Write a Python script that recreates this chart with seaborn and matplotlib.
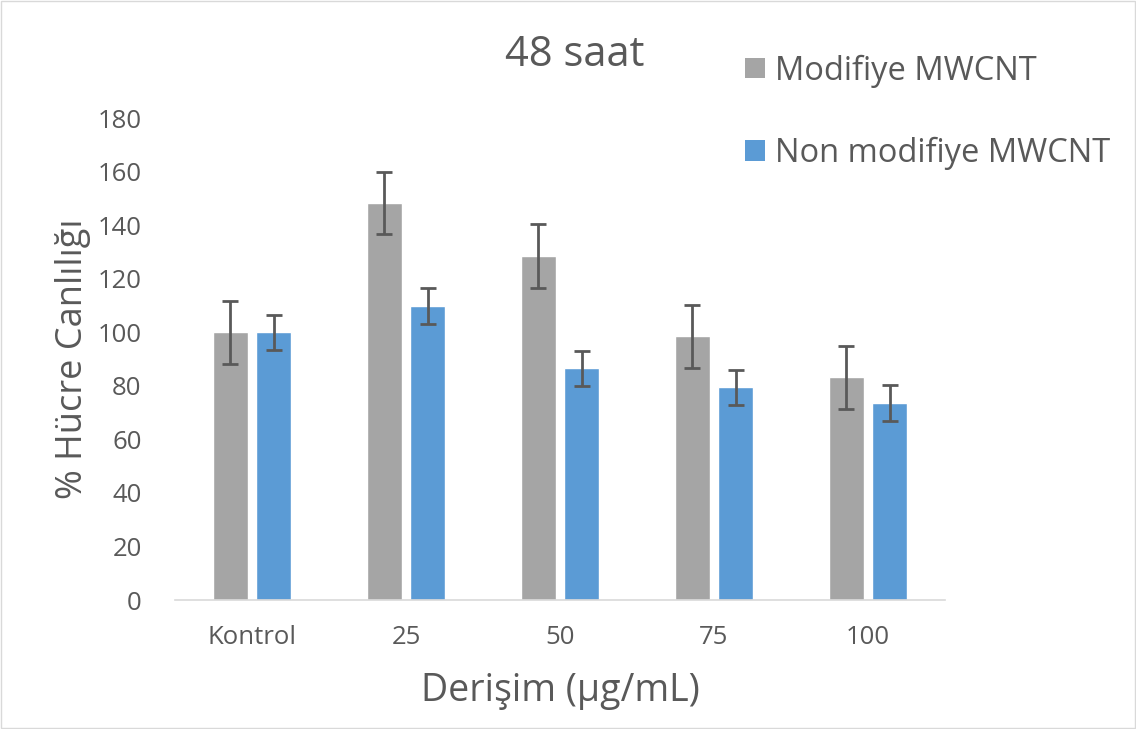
import matplotlib
matplotlib.use("Agg")
import matplotlib.pyplot as plt
import seaborn as sns
import pandas as pd
import numpy as np
from matplotlib.patches import Patch

# veriler
kategoriler = ["Kontrol", "25", "50", "75", "100"]
seriler = ["Modifiye MWCNT", "Non modifiye MWCNT"]
modifiye = [100.0, 148.2, 128.5, 98.5, 83.2]
modifiye_hata = [11.7, 11.6, 11.8, 11.8, 11.8]
non_modifiye = [100.0, 109.8, 86.5, 79.4, 73.6]
non_modifiye_hata = [6.6, 6.6, 6.6, 6.6, 6.6]
y_ticks = [0, 20, 40, 60, 80, 100, 120, 140, 160, 180]

renkler = ["#a5a5a5", "#5b9bd5"]
yazi_rengi = "#595959"

df = pd.DataFrame({
    "Derişim": kategoriler * 2,
    "Seri": [seriler[0]] * 5 + [seriler[1]] * 5,
    "Değer": modifiye + non_modifiye,
    "Hata": modifiye_hata + non_modifiye_hata,
})

sns.set_style("white")
plt.rcParams["font.family"] = ["Open Sans", "DejaVu Sans"]

fig = plt.figure(figsize=(11.36, 7.29), dpi=100)
ax = fig.add_axes([175 / 1136, 129 / 729, 770 / 1136, 482 / 729])

sns.barplot(data=df, x="Derişim", y="Değer", hue="Seri", order=kategoriler,
            hue_order=seriler, palette=renkler, width=0.568, gap=0.2,
            errorbar=None, ax=ax, legend=False, saturation=1)

# hata çubukları - çubuk merkezlerine göre
for i, seri in enumerate(seriler):
    cont = ax.containers[i]
    alt = df[df["Seri"] == seri]
    xs = [p.get_x() + p.get_width() / 2 for p in cont.patches]
    ax.errorbar(xs, alt["Değer"].values, yerr=alt["Hata"].values, fmt="none",
                ecolor=yazi_rengi, elinewidth=2, capsize=6, capthick=2, zorder=3)

ax.set_xlim(-0.5, 4.5)
ax.set_ylim(0, 180)
ax.set_yticks(y_ticks)
ax.tick_params(axis="both", length=0, labelsize=18.5, labelcolor=yazi_rengi)
ax.tick_params(axis="x", pad=18)
ax.tick_params(axis="y", pad=24)
for s in ["top", "right", "left"]:
    ax.spines[s].set_visible(False)
ax.spines["bottom"].set_color("#d9d9d9")
ax.spines["bottom"].set_linewidth(1.2)

ax.set_xlabel("Derişim (µg/mL)", fontsize=27, color=yazi_rengi, labelpad=16)
ax.set_ylabel("% Hücre Canlılığı", fontsize=26, color=yazi_rengi, labelpad=5)

fig.text(575 / 1136, 1 - 55 / 729, "48 saat", fontsize=30, color=yazi_rengi,
         ha="center", va="center")

# lejant
tutamaklar = [Patch(facecolor=c, edgecolor="none") for c in renkler]
fig.legend(tutamaklar, seriler, loc="upper left",
           bbox_to_anchor=(716 / 1136, 1 - 25 / 729), frameon=False,
           fontsize=23.5, labelcolor=yazi_rengi, handlelength=0.6,
           handleheight=0.6, handletextpad=0.3, labelspacing=1.5)

# dış çerçeve
fig.patches.append(plt.Rectangle((0.001, 0.001), 0.998, 0.997, transform=fig.transFigure,
                                 fill=False, edgecolor="#d9d9d9", linewidth=1))

fig.savefig("out.png", dpi=100)
